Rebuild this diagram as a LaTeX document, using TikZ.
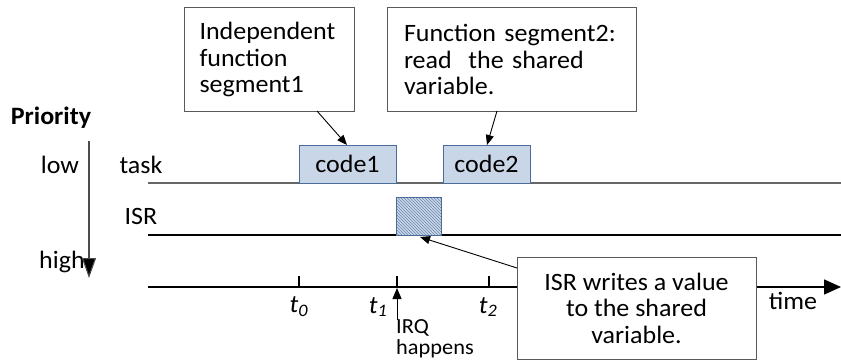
\documentclass[tikz,border=0pt]{standalone}
\usepackage{fontspec}
\setmainfont[FakeStretch=1.04]{Carlito}
\usetikzlibrary{arrows.meta,patterns}
\definecolor{codefill}{HTML}{C9D6E7}
\definecolor{codeedge}{HTML}{4A6C9B}
\definecolor{boxedge}{HTML}{595959}
\tikzset{
  txt/.style={font=\fontsize{25}{26.5}\selectfont, inner sep=0pt},
  callout/.style={txt, draw=boxedge, line width=1pt, fill=white, align=left},
  codebox/.style={txt, draw=codeedge, line width=1pt, fill=codefill},
  isrbox/.style={draw=codeedge, line width=1pt,
    preaction={fill=codefill}, pattern=north west lines, pattern color=codeedge!80},
  lane/.style={line width=1.1pt},
  pointer/.style={line width=0.9pt, -{Triangle[length=10pt,width=8pt]}},
  tick/.style={line width=1.1pt},
}
\begin{document}
\begin{tikzpicture}[x=1pt,y=-1pt]
\useasboundingbox (0,0) rectangle (841,361);

% priority scale on the left
\node[txt, font=\fontsize{25}{26}\selectfont\bfseries] (prio) at (51,118) {Priority};
\node[txt] (low) at (60,165) {low};
\node[txt] (high) at (62,262) {high};
\coordinate (ptop) at (89,141);
\coordinate (pbot) at (89,278);
\draw[line width=1.1pt, draw=black!70, -{Triangle[length=20pt,width=14pt,fill=black]}] (ptop) -- (pbot);

% execution lanes
\node[txt] (tasklbl) at (141,165) {task};
\node[txt] (isrlbl) at (141,216) {ISR};
\coordinate (taskL) at (148,183);
\coordinate (taskR) at (841,183);
\coordinate (isrL) at (148,235);
\coordinate (isrR) at (841,235);
\draw[lane, draw=black!60] (taskL) -- (taskR);
\draw[lane] (isrL) -- (isrR);

% code segments
\node[codebox, minimum width=97pt, minimum height=38pt] (code1) at (347.5,164) {code1};
\node[codebox, minimum width=87pt, minimum height=38pt] (code2) at (486.5,164) {code2};
\node[isrbox, minimum width=45pt, minimum height=38pt, inner sep=0pt] (isr) at (418.5,216) {};

% time axis
\coordinate (axL) at (148,287);
\coordinate (axR) at (841,287);
\draw[line width=1.6pt, -{Triangle[length=17pt,width=15pt]}] (axL) -- (axR);
\coordinate (tk0) at (299,276);
\coordinate (tk1) at (397,276);
\coordinate (tk2) at (489,276);
\draw[tick] (tk0) -- +(0,11);
\draw[tick] (tk1) -- +(0,11);
\draw[tick] (tk2) -- +(0,11);
\node[txt] (t0) at (299,307) {\textit{t}\textsubscript{\textit{0}}};
\node[txt] (t1) at (378,307) {\textit{t}\textsubscript{\textit{1}}};
\node[txt] (t2) at (488,307) {\textit{t}\textsubscript{\textit{2}}};
\node[txt] (time) at (793,301) {time};

% interrupt request
\coordinate (irqfoot) at (397,320);
\coordinate (irqtip) at (397,288);
\draw[line width=0.9pt, -{Triangle[length=11pt,width=9pt]}] (irqfoot) -- (irqtip);
\node[txt, font=\fontsize{21.5}{21}\selectfont, align=left, anchor=north west] (irq) at (396,319) {IRQ\\happens};

% callouts
\node[callout, minimum width=170pt, minimum height=103pt, text width=139pt] (note1) at (269,59.5)
  {Independent\\function\\segment1};
\node[callout, minimum width=249pt, minimum height=103pt, text width=215pt] (note2) at (511.5,59.5)
  {Function segment2:\\read\ \ the shared\\variable.};
\node[callout, minimum width=239pt, minimum height=102pt, align=center] (note3) at (636.5,308)
  {ISR writes a value\\to the shared\\variable.};

% callout pointers
\coordinate (n1s) at (317,111);
\coordinate (c1e) at (347,145);
\coordinate (n2s) at (497,111);
\coordinate (c2e) at (487,145);
\coordinate (n3s) at (517,268);
\coordinate (ise) at (420,237);
\draw[pointer] (n1s) -- (c1e);
\draw[pointer] (n2s) -- (c2e);
\draw[pointer] (n3s) -- (ise);
\end{tikzpicture}
\end{document}
